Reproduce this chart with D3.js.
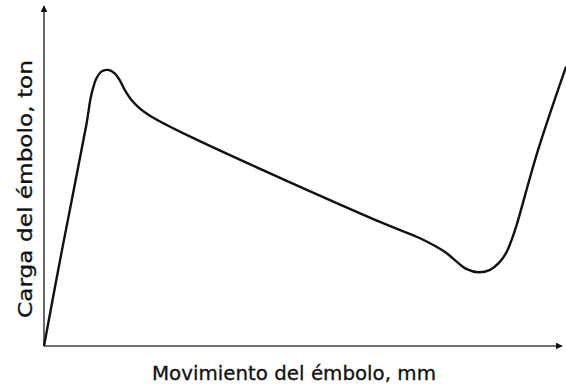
<!DOCTYPE html>
<html>
<head>
<meta charset="UTF-8">
<style>
  body { margin: 0; background: #fff; }
  svg { display: block; }
  text { font-family: "DejaVu Sans", sans-serif; fill: #111; }
</style>
</head>
<body>
<svg></svg>
<script src="https://d3js.org/d3.v7.min.js"></script>
<script>
let width = 566, height = 389;

// piston movement (% of stroke) and piston load (% of scale)
let movement = [0, 3.47, 8.17, 9.13, 10.1, 11.06, 12.36, 13.65, 14.61, 15.58, 16.85, 18.47, 20.6, 28.76, 64.86, 72.59, 75.15, 77.74, 79.67, 81.6, 83.84, 86.1, 88.03, 89.32, 90.6, 91.25, 95.37, 100.77];
let load     = [0, 28.2, 65.0, 73.8, 78.7, 80.7, 81.2, 80.2, 78.2, 75.3, 72.4, 69.9, 67.6, 61.2, 36.5, 31.7, 29.7, 27.3, 24.8, 22.6, 21.7, 22.4, 24.8, 27.7, 32.6, 35.6, 57.6, 82.1];

let xLabel = "Movimiento del émbolo, mm";
let yLabel = "Carga del émbolo, ton";

let svg = d3.select("svg")
    .attr("width", width)
    .attr("height", height);

let x = d3.scaleLinear().domain([0, 100]).range([44, 562]);
let y = d3.scaleLinear().domain([0, 100]).range([346, 6]);

// arrow head
svg.append("defs").append("marker")
    .attr("id", "arrow")
    .attr("viewBox", "0 0 10 10")
    .attr("refX", 9).attr("refY", 5)
    .attr("markerWidth", 7).attr("markerHeight", 7)
    .attr("markerUnits", "userSpaceOnUse")
    .attr("orient", "auto")
    .append("path")
    .attr("d", "M0,0 L10,5 L0,10 Z")
    .attr("fill", "#111");

// axes
svg.append("line")
    .attr("x1", x(0)).attr("y1", y(0))
    .attr("x2", x(0)).attr("y2", y(100))
    .attr("stroke", "#444").attr("stroke-width", 1.6)
    .attr("marker-end", "url(#arrow)");

svg.append("line")
    .attr("x1", x(0)).attr("y1", y(0))
    .attr("x2", x(100)).attr("y2", y(0))
    .attr("stroke", "#444").attr("stroke-width", 1.6)
    .attr("marker-end", "url(#arrow)");

// curve
let pts = movement.map((m, i) => [m, load[i]]);
let line = d3.line()
    .x(d => x(d[0]))
    .y(d => y(d[1]))
    .curve(d3.curveCatmullRom.alpha(0.5));

svg.append("path")
    .datum(pts)
    .attr("d", line)
    .attr("fill", "none")
    .attr("stroke", "#111")
    .attr("stroke-width", 2.4)
    .attr("stroke-linejoin", "round");

// labels
svg.append("text")
    .attr("x", 152).attr("y", 380)
    .attr("font-size", 19.5)
    .attr("stroke", "#111").attr("stroke-width", 0.3)
    .attr("textLength", 284)
    .attr("lengthAdjust", "spacingAndGlyphs")
    .text(xLabel);

svg.append("text")
    .attr("transform", "translate(32,318) rotate(-90)")
    .attr("font-size", 19.5)
    .attr("stroke", "#111").attr("stroke-width", 0.3)
    .attr("textLength", 258)
    .attr("lengthAdjust", "spacingAndGlyphs")
    .text(yLabel);
</script>
</body>
</html>
